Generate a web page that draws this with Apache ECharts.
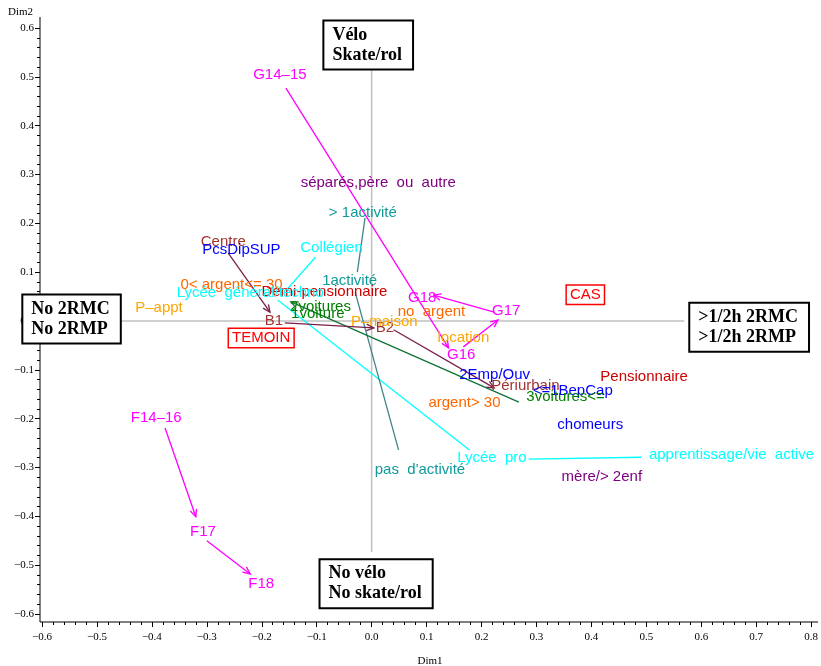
<!DOCTYPE html>
<html>
<head>
<meta charset="utf-8">
<script src="https://cdn.jsdelivr.net/npm/echarts@6/dist/echarts.min.js"></script>
<style>
html, body { margin: 0; padding: 0; background: #fff; }
#main { width: 821px; height: 666px; }
</style>
</head>
<body>
<div id="main"></div>
<script>
// modalities: [dim1, dim2, label]
var sexeAge = [
  [-0.167, 0.504, 'G14\u201315'],
  [0.163, -0.070, 'G16'],
  [0.245, 0.020, 'G17'],
  [0.092, 0.047, 'G18'],
  [-0.392, -0.199, 'F14\u201316'],
  [-0.307, -0.432, 'F17'],
  [-0.201, -0.539, 'F18']
];
var famille = [
  [0.012, 0.283, 's\u00e9par\u00e9s,p\u00e8re  ou  autre'],
  [0.419, -0.319, 'm\u00e8re/> 2enf']
];
var activite = [
  [-0.016, 0.221, '> 1activit\u00e9'],
  [-0.040, 0.082, '1activit\u00e9'],
  [0.088, -0.305, 'pas  d\'activit\u00e9']
];
var lieu = [
  [-0.270, 0.162, 'Centre'],
  [-0.178, 0.000, 'B1'],
  [0.024, -0.014, 'B2'],
  [0.280, -0.133, 'P\u00e9riurbain']
];
var regime = [
  [-0.086, 0.059, 'Demi-pensionnaire'],
  [0.496, -0.115, 'Pensionnaire']
];
var pcs = [
  [-0.237, 0.145, 'PcsDipSUP'],
  [0.224, -0.111, '2Emp/Ouv'],
  [0.366, -0.143, '<=1BepCap'],
  [0.398, -0.213, 'chomeurs']
];
var voitures = [
  [-0.093, 0.029, '2voitures'],
  [-0.098, 0.014, '1voiture'],
  [0.353, -0.156, '3voitures<=']
];
var scolarite = [
  [-0.073, 0.150, 'Coll\u00e9gien'],
  [-0.221, 0.057, 'Lyc\u00e9e  g\u00e9n\u00e9ral/techno'],
  [0.219, -0.281, 'Lyc\u00e9e  pro'],
  [0.655, -0.274, 'apprentissage/vie  active']
];
var argent = [
  [-0.255, 0.074, '0< argent<= 30'],
  [0.109, 0.018, 'no  argent'],
  [0.169, -0.168, 'argent> 30']
];
var logement = [
  [-0.387, 0.027, 'P\u2013appt'],
  [0.023, -0.002, 'P\u2013maison'],
  [0.167, -0.035, 'location']
];
var groupes = [
  [-0.201, -0.035, 'TEMOIN'],
  [0.389, 0.054, 'CAS']
];
// axis poles: [dim1 near box left edge, dim2, text]
var poles = [
  [-0.086, 0.565, 'V\u00e9lo\nSkate/rol'],
  [-0.093, -0.538, 'No v\u00e9lo\nNo skate/rol'],
  [-0.634, 0.004, 'No 2RMC\nNo 2RMP'],
  [0.580, -0.013, '>1/2h 2RMC\n>1/2h 2RMP']
];
// trajectories: [x1, y1, x2, y2]
var arrowsAge = [
  [-0.156, 0.477, 0.140, -0.055],
  [0.167, -0.053, 0.230, 0.002],
  [0.223, 0.018, 0.113, 0.053],
  [-0.376, -0.219, -0.320, -0.401],
  [-0.300, -0.450, -0.221, -0.518]
];
var arrowsLieu = [
  [-0.261, 0.139, -0.185, 0.018],
  [-0.158, -0.004, 0.004, -0.014],
  [0.040, -0.018, 0.223, -0.137]
];
var arrowsVoitures = [
  [0.268, -0.166, -0.147, 0.039]
];
var pathScolarite = [
  [-0.102, 0.131, -0.153, 0.066],
  [-0.171, 0.043, 0.178, -0.264],
  [0.286, -0.283, 0.491, -0.279]
];
var pathActivite = [
  [-0.012, 0.211, -0.026, 0.100],
  [-0.030, 0.059, 0.049, -0.264]
];
var refLines = [
  [0, 0.514, 0, -0.473],
  [-0.456, 0, 0.569, 0]
];
var xTicks = { min: -0.6, max: 0.8, step: 0.1 };
var yTicks = { min: -0.6, max: 0.6, step: 0.1 };

var labelFont = '15px "Liberation Sans", Arial, sans-serif';
var chart = echarts.init(document.getElementById('main'));

function fmt(v) {
  var s = Math.abs(v).toFixed(1);
  return v < -1e-9 ? '\u2212' + s : s;
}

function segSeries(data, color, head, width) {
  return {
    type: 'custom', data: data, clip: false, silent: true, z: 3,
    encode: { x: [0, 2], y: [1, 3] },
    renderItem: function (params, api) {
      var a = api.coord([api.value(0), api.value(1)]);
      var b = api.coord([api.value(2), api.value(3)]);
      var kids = [{
        type: 'line',
        shape: { x1: a[0], y1: a[1], x2: b[0], y2: b[1] },
        style: { stroke: color, lineWidth: width || 1.3 }
      }];
      if (head) {
        var ang = Math.atan2(b[1] - a[1], b[0] - a[0]), L = 8, w = 0.42;
        kids.push({
          type: 'polyline',
          shape: { points: [
            [b[0] - L * Math.cos(ang - w), b[1] - L * Math.sin(ang - w)],
            [b[0], b[1]],
            [b[0] - L * Math.cos(ang + w), b[1] - L * Math.sin(ang + w)]
          ] },
          style: { stroke: color, fill: null, lineWidth: width || 1.3 }
        });
      }
      return { type: 'group', children: kids };
    }
  };
}

function textSeries(data, color, boxed) {
  return {
    type: 'custom', data: data, clip: false, silent: true, z: 5,
    encode: { x: 0, y: 1 },
    renderItem: function (params, api) {
      var p = api.coord([api.value(0), api.value(1)]);
      var st = {
        text: data[params.dataIndex][2], fill: color, font: labelFont,
        align: 'center', verticalAlign: 'middle'
      };
      if (boxed) {
        st.borderColor = color; st.borderWidth = 1.5;
        st.padding = [2, 3, 1, 3]; st.backgroundColor = '#fff';
      }
      return { type: 'text', x: p[0], y: p[1], style: st };
    }
  };
}

function poleSeries(data) {
  return {
    type: 'custom', data: data, clip: false, silent: true, z: 10,
    encode: { x: 0, y: 1 },
    renderItem: function (params, api) {
      var p = api.coord([api.value(0), api.value(1)]);
      return {
        type: 'text', x: p[0], y: p[1],
        style: {
          text: data[params.dataIndex][2], fill: '#000',
          font: 'bold 18px "Liberation Serif", "DejaVu Serif", serif',
          align: 'left', verticalAlign: 'middle', lineHeight: 20,
          padding: [4, 10, 3, 8], borderColor: '#000', borderWidth: 2,
          backgroundColor: '#fff'
        }
      };
    }
  };
}

var axisCommon = {
  type: 'value',
  axisLine: { show: false, onZero: false },
  axisTick: { show: true, length: 5, lineStyle: { color: '#000' } },
  minorTick: { show: true, splitNumber: 5, length: 3, lineStyle: { color: '#000' } },
  splitLine: { show: false },
  minorSplitLine: { show: false },
  axisLabel: {
    color: '#000', fontSize: 11, fontFamily: '"Liberation Serif", serif',
    formatter: fmt
  }
};

var option = {
  animation: false,
  backgroundColor: '#fff',
  grid: { left: 42, right: 3, top: 28, bottom: 52 },
  xAxis: echarts.util.merge({
    min: xTicks.min, max: xTicks.max, interval: xTicks.step, offset: 8,
    position: 'bottom', axisLabel: { margin: 10 }
  }, axisCommon),
  yAxis: echarts.util.merge({
    min: yTicks.min, max: yTicks.max, interval: yTicks.step, offset: 2,
    position: 'left', axisLabel: { margin: 6 }
  }, axisCommon),
  graphic: [
    { type: 'polyline', z: 1, silent: true,
      shape: { points: [[40, 17], [40, 622], [818, 622]] },
      style: { stroke: '#000', fill: null, lineWidth: 1 } },
    { type: 'text', x: 8, y: 7, silent: true,
      style: { text: 'Dim2', fill: '#000', font: '11px "Liberation Serif", serif' } },
    { type: 'text', x: 430, y: 656, silent: true,
      style: { text: 'Dim1', fill: '#000', font: '11px "Liberation Serif", serif', align: 'center' } }
  ],
  series: [
    segSeries(refLines, '#c0c0c0', false, 1.5),
    segSeries(pathScolarite, '#00ffff', false),
    segSeries(pathActivite, '#3f8585', false),
    segSeries(arrowsVoitures, '#0f7335', true),
    segSeries(arrowsLieu, '#7a1e4a', true),
    segSeries(arrowsAge, '#ff00ff', true),
    textSeries(famille, '#800080'),
    textSeries(activite, '#129a9a'),
    textSeries(argent, '#ff6600'),
    textSeries(regime, '#cc0000'),
    textSeries(scolarite, '#00ffff'),
    textSeries(lieu, '#a33333'),
    textSeries(pcs, '#0000ff'),
    textSeries(voitures, '#008000'),
    textSeries(logement, '#ffa500'),
    textSeries(sexeAge, '#ff00ff'),
    textSeries(groupes, '#ff0000', true),
    poleSeries(poles)
  ]
};
chart.setOption(option);
</script>
</body>
</html>
